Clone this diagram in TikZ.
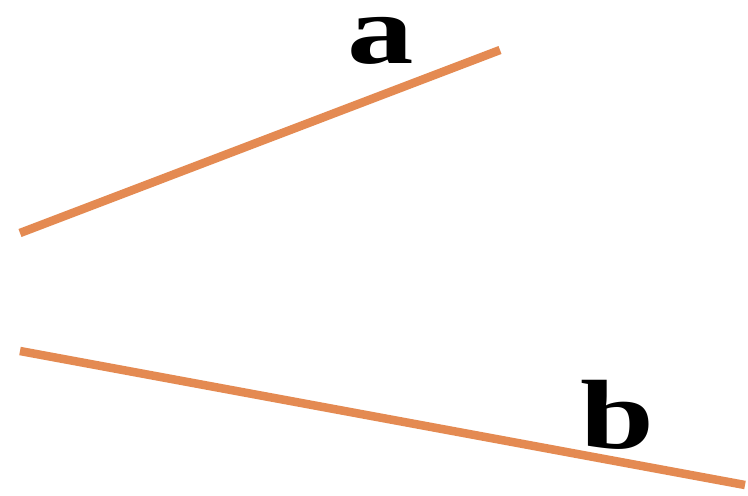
\documentclass[tikz,border=0pt]{standalone}
\usepackage{fontspec}
\setmainfont{Liberation Serif}
\definecolor{seg}{RGB}{228,138,82}
\begin{document}
\begin{tikzpicture}[x=0.02cm,y=-0.02cm,
  segline/.style={draw=seg,line width=0.17cm},
  lbl/.style={anchor=base,inner sep=0pt,font=\fontsize{56}{60}\selectfont\bfseries}]
\useasboundingbox (0,0) rectangle (748,495);
\fill[white] (0,0) rectangle (748,495);
\coordinate (a1) at (20,233);
\coordinate (a2) at (500,50);
\coordinate (b1) at (20,351);
\coordinate (b2) at (745,485);
\draw[segline] (a1) -- (a2);
\draw[segline] (b1) -- (b2);
\node[lbl,text height=0.45em] (la) at (381,63) {\scalebox{1.35}[1]{a}};
\node[lbl] (lb) at (617,448) {\scalebox{1.35}[1]{b}};
\end{tikzpicture}
\end{document}
